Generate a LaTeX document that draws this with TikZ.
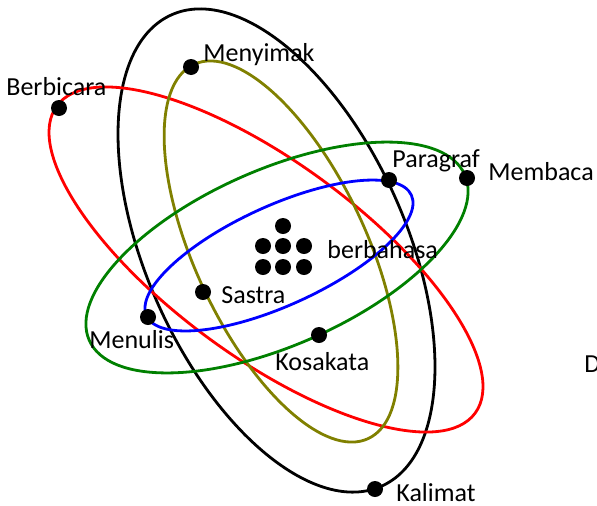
\documentclass[tikz,border=0pt]{standalone}
\usepackage{fontspec}
\setmainfont{Carlito}
\usepackage{xcolor}
\usepackage{tikz}
\usetikzlibrary{positioning}
\definecolor{ringolive}{HTML}{808000}
\definecolor{ringgreen}{HTML}{008000}
\definecolor{ringblue}{HTML}{0000FF}
\definecolor{ringred}{HTML}{FF0000}

\begin{document}
\begin{tikzpicture}[x=0.5pt, y=0.5pt,
    ring/.style={line width=1.4pt},
    dot/.style={circle, fill=black, inner sep=0pt, minimum size=8pt},
    lbl/.style={font=\fontsize{13}{15}\selectfont, inner sep=0pt, anchor=base west},
]
\useasboundingbox (0,0) rectangle (597,505);
% rings
\draw[ring, black, rotate around={-66:(276.5,254.5)}] (276.5,254.5) ellipse [x radius=258, y radius=130];
\draw[ring, ringred, rotate around={-36.3:(266,245.5)}] (266,245.5) ellipse [x radius=259.5, y radius=97.4];
\draw[ring, ringolive, rotate around={-65:(281,253.5)}] (281,253.5) ellipse [x radius=206.4, y radius=85.8];
\draw[ring, ringgreen, rotate around={23.8:(277,247.5)}] (277,247.5) ellipse [x radius=205.2, y radius=87.9];
\draw[ring, ringblue, rotate around={24.5:(279,249.5)}] (279,249.5) ellipse [x radius=145.5, y radius=49.8];
% center cluster
\foreach \px/\py [count=\i] in {283/279, 263/259, 283/259, 304/259, 263/238, 283/238, 304/238}
  \node[dot] (c\i) at (\px,\py) {};
% points on the rings
\node[dot] (bicara) at (59,397) {};
\node[dot] (simak)  at (191,438) {};
\node[dot] (para)   at (389,325) {};
\node[dot] (baca)   at (467,327) {};
\node[dot] (sastra) at (203,213) {};
\node[dot] (tulis)  at (148,188) {};
\node[dot] (kosa)   at (319,170) {};
\node[dot] (kalimat) at (375,16) {};
% labels
\node[lbl] (lbicara) at (6,410)   {Berbicara};
\node[lbl] (lsimak)  at (203,444) {Menyimak};
\node[lbl] (lpara)   at (392,338) {Paragraf};
\node[lbl] (lbaca)   at (488,325) {Membaca};
\node[lbl] (lsastra) at (221,202) {Sastra};
\node[lbl] (ltulis)  at (89,157)  {Menulis};
\node[lbl] (lkosa)   at (275,135) {Kosakata};
\node[lbl] (lkalimat) at (396,4)  {Kalimat};
\node[lbl] (lbahasa) at (327,247) {berbahasa};
\node[lbl] (ld)      at (584,133) {D};
\end{tikzpicture}
\end{document}
